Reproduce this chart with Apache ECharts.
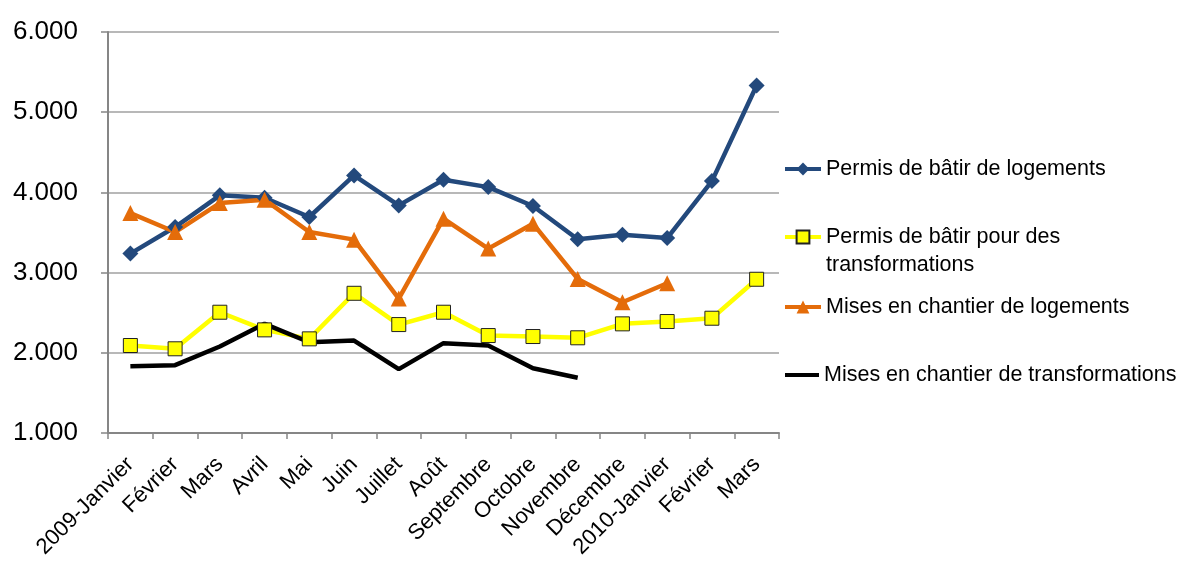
<!DOCTYPE html>
<html>
<head>
<meta charset="utf-8">
<script src="https://cdn.jsdelivr.net/npm/echarts@6/dist/echarts.min.js"></script>
<style>
  html, body { margin: 0; padding: 0; background: #fff; }
  #chart { width: 1180px; height: 561px; }
</style>
</head>
<body>
<div id="chart"></div>
<script>
var months = ['2009-Janvier', 'Février', 'Mars', 'Avril', 'Mai', 'Juin', 'Juillet', 'Août',
  'Septembre', 'Octobre', 'Novembre', 'Décembre', '2010-Janvier', 'Février', 'Mars']

var permisLogements = [3237, 3568, 3963, 3934, 3693, 4212, 3838, 4158, 4066, 3830, 3415, 3473, 3431, 4141, 5333]
var permisTransfo = [2091, 2050, 2506, 2286, 2174, 2742, 2352, 2506, 2215, 2203, 2187, 2361, 2390, 2431, 2917]
var chantierLogements = [3742, 3506, 3867, 3909, 3506, 3411, 2676, 3672, 3299, 3610, 2921, 2630, 2867, null, null]
var chantierTransfo = [1833, 1846, 2078, 2361, 2132, 2153, 1796, 2120, 2091, 1808, 1689, null, null, null, null]

var names = [
  'Permis de bâtir de logements',
  'Permis de bâtir pour des transformations',
  'Mises en chantier de logements',
  'Mises en chantier de transformations'
]

var font = "'Liberation Sans', Arial, sans-serif"
var legendTops = [150, 190, 288, 356] // legend rows, by eye

var chart = echarts.init(document.getElementById('chart'))

chart.setOption({
  animation: false,
  backgroundColor: '#fff',
  textStyle: { fontFamily: font },
  grid: { left: 108, right: 401, top: 32, bottom: 128 },
  legend: names.map(function (n, i) {
    return {
      data: i === 3 ? [{ name: n, icon: 'rect' }] : [n],
      left: i === 3 ? 780 : 778,
      top: legendTops[i],
      orient: 'vertical',
      itemWidth: i === 3 ? 34 : 36,
      itemHeight: i === 3 ? 4 : 16,
      itemGap: 0,
      selectedMode: false,
      lineStyle: { width: 4 },
      formatter: function (name) {
        // blank first line keeps the icon level with the first text line
        return name === names[1] ? '\nPermis de bâtir pour des\ntransformations' : name
      },
      textStyle: {
        fontFamily: font,
        fontSize: 21.5,
        color: '#000',
        lineHeight: 28
      }
    }
  }),
  xAxis: {
    type: 'category',
    data: months,
    boundaryGap: true,
    axisLine: { lineStyle: { color: '#868686', width: 2 } },
    axisTick: { show: true, length: 6, lineStyle: { color: '#868686', width: 1.5 } },
    axisLabel: {
      interval: 0,
      rotate: 45,
      margin: 28,
      color: '#000',
      fontSize: 22,
      fontFamily: font
    },
    splitLine: { show: false }
  },
  yAxis: {
    type: 'value',
    min: 1000,
    max: 6000,
    interval: 1000,
    axisLine: { show: true, lineStyle: { color: '#868686', width: 2 } },
    axisTick: { show: true, length: 7, lineStyle: { color: '#868686', width: 1.5 } },
    axisLabel: {
      margin: 30,
      color: '#000',
      fontSize: 26,
      fontFamily: font,
      formatter: function (v) {
        return Math.floor(v / 1000) + '.' + String(v % 1000).padStart(3, '0')
      }
    },
    splitLine: { lineStyle: { color: '#a0a0a0', width: 1.5 } }
  },
  series: [
    {
      name: names[0],
      type: 'line',
      data: permisLogements,
      symbol: 'diamond',
      symbolSize: 16,
      lineStyle: { color: '#23497c', width: 4.5 },
      itemStyle: { color: '#23497c' }
    },
    {
      name: names[1],
      type: 'line',
      data: permisTransfo,
      symbol: 'rect',
      symbolSize: 14,
      lineStyle: { color: '#ffff00', width: 4.5 },
      itemStyle: { color: '#ffff00', borderColor: '#222', borderWidth: 1 }
    },
    {
      name: names[2],
      type: 'line',
      data: chantierLogements,
      symbol: 'triangle',
      symbolSize: 16,
      lineStyle: { color: '#e46c0a', width: 4.5 },
      itemStyle: { color: '#e46c0a' }
    },
    {
      name: names[3],
      type: 'line',
      data: chantierTransfo,
      symbol: 'none',
      lineStyle: { color: '#000', width: 4.5 },
      itemStyle: { color: '#000' }
    }
  ]
})
</script>
</body>
</html>
